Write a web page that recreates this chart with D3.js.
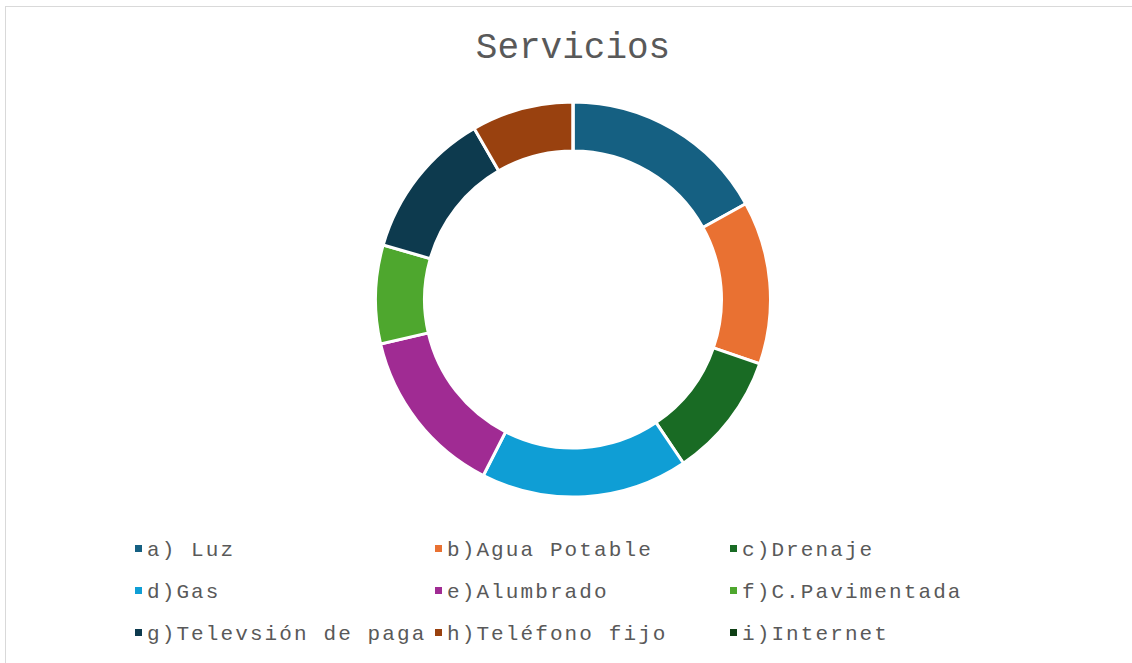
<!DOCTYPE html>
<html>
<head>
<meta charset="utf-8">
<script src="https://cdn.jsdelivr.net/npm/d3@7"></script>
<style>
  body { margin: 0; background: #fff; }
  svg { display: block; }
  .legend text { font-family: "Liberation Mono", "Courier New", monospace; fill: #595959; }
</style>
</head>
<body>
<svg id="chart" width="1132" height="663"></svg>
<script>
// data (slice share in degrees-ish units)
var categories = ["a) Luz", "b)Agua Potable", "c)Drenaje", "d)Gas", "e)Alumbrado",
                  "f)C.Pavimentada", "g)Televsión de paga", "h)Teléfono fijo", "i)Internet"];
var values = [61, 48, 37, 61, 50, 29, 44, 30, 0];
var colors = ["#156082", "#E97132", "#196B24", "#0F9ED5", "#A02B93",
              "#4EA72E", "#0D3A4E", "#99410F", "#0F4016"];
var title = "Servicios";

var svg = d3.select("#chart")
    , cx = 573
    , cy = 299.5
    ;

// outer frame
svg.append("rect")
    .attr("x", 5.5).attr("y", 6.5)
    .attr("width", 1140).attr("height", 670)
    .attr("fill", "none")
    .attr("stroke", "#d9d9d9");

svg.append("text")
    .attr("x", cx).attr("y", 58)
    .attr("text-anchor", "middle")
    .attr("font-family", "Liberation Mono, Courier New, monospace")
    .attr("font-size", 36)
    .attr("fill", "#595959")
    .text(title);

var pie = d3.pie().sort(null).value(function(d) { return d; });
var arc = d3.arc().innerRadius(148.5).outerRadius(197.5);
var color = d3.scaleOrdinal().domain(categories).range(colors);

svg.append("g")
    .attr("transform", "translate(" + cx + "," + cy + ")")
    .selectAll("path")
    .data(pie(values))
    .join("path")
    .attr("d", arc)
    .attr("fill", function(d, i) { return color(categories[i]); })
    .attr("stroke", "#fff")
    .attr("stroke-width", 3);

// legend, 3 columns
var colX = [135, 435, 730]
    , rowY = 545
    , rowH = 42;

var item = svg.append("g").attr("class", "legend")
    .selectAll("g")
    .data(categories)
    .join("g")
    .attr("transform", function(d, i) {
        return "translate(" + colX[i % 3] + "," + (rowY + Math.floor(i / 3) * rowH) + ")";
    });

item.append("rect")
    .attr("width", 7).attr("height", 7)
    .attr("fill", function(d) { return color(d); });

item.append("text")
    .attr("x", 12).attr("y", 11)
    .attr("font-size", 21)
    .attr("letter-spacing", 2.1)
    .text(function(d) { return d; });
</script>
</body>
</html>
